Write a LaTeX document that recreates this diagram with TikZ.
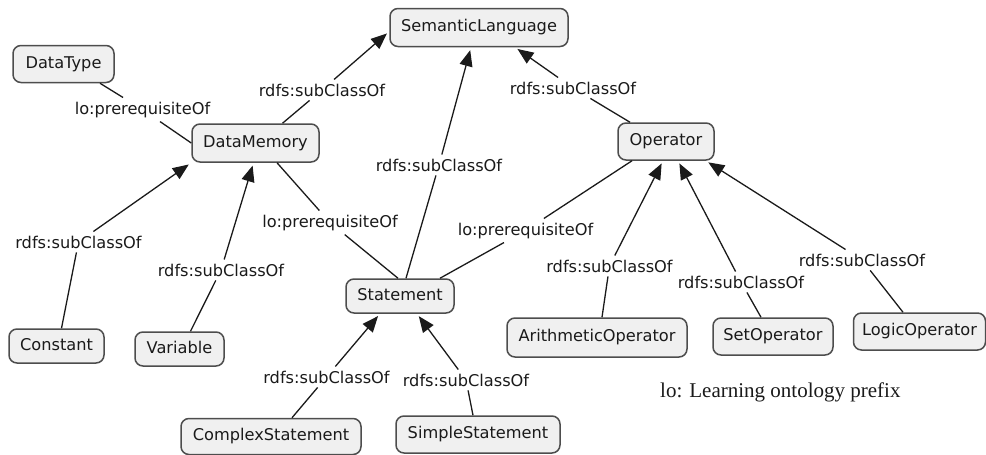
\documentclass[tikz,border=0pt]{standalone}
\usepackage{fontspec}
\setmainfont{DejaVu Sans}
\newfontfamily\legendfont{Liberation Serif}
\usetikzlibrary{arrows.meta}
\definecolor{boxfill}{HTML}{F0F0F0}
\definecolor{boxline}{HTML}{4D4D4D}
\definecolor{ink}{HTML}{1A1A1A}
\begin{document}
\begin{tikzpicture}[x=1pt,y=-1pt,
  concept/.style={draw=boxline, fill=boxfill, line width=1.5pt, rounded corners=8pt,
    inner sep=0pt, font=\fontsize{16.2}{19}\selectfont, text=ink,
    text height=12pt, text depth=3.5pt},
  rel/.style={font=\fontsize{16.2}{19}\selectfont, text=ink, inner sep=4pt, anchor=base},
  link/.style={draw=ink, line width=1.3pt},
  isa/.style={link, -{Triangle[length=16pt,width=13pt]}, shorten >=3pt}]
\useasboundingbox (0,0) rectangle (986,455);

% concepts
\node[concept, minimum width=178pt, minimum height=38pt] (sem) at (479,27.5) {SemanticLanguage};
\node[concept, minimum width=101pt, minimum height=37pt] (dt) at (63.5,64) {DataType};
\node[concept, minimum width=127pt, minimum height=38pt] (dm) at (255.5,143) {DataMemory};
\node[concept, minimum width=96pt, minimum height=37pt] (op) at (666,141.5) {Operator};
\node[concept, minimum width=108pt, minimum height=34pt] (st) at (400,296) {Statement};
\node[concept, minimum width=95pt, minimum height=34pt] (co) at (56.5,346) {Constant};
\node[concept, minimum width=89pt, minimum height=34pt] (va) at (179.5,349) {Variable};
\node[concept, minimum width=180pt, minimum height=36pt] (cs) at (271,436.5) {ComplexStatement};
\node[concept, minimum width=164pt, minimum height=37pt] (ss) at (478,434.5) {SimpleStatement};
\node[concept, minimum width=180pt, minimum height=39pt] (ao) at (597,337.5) {ArithmeticOperator};
\node[concept, minimum width=120pt, minimum height=37pt] (so) at (773,336.5) {SetOperator};
\node[concept, minimum width=132pt, minimum height=37pt] (lg) at (919.5,331.5) {LogicOperator};

% relation labels
\node[rel] (l1) at (142.5,114) {lo:prerequisiteOf};
\node[rel] (l2) at (322,96) {rdfs:subClassOf};
\node[rel] (l3) at (439,171) {rdfs:subClassOf};
\node[rel] (l4) at (573,94) {rdfs:subClassOf};
\node[rel] (l5) at (330,227) {lo:prerequisiteOf};
\node[rel] (l6) at (525.5,235) {lo:prerequisiteOf};
\node[rel] (l7) at (78.5,248) {rdfs:subClassOf};
\node[rel] (l8) at (221,276) {rdfs:subClassOf};
\node[rel] (l9) at (326.5,383) {rdfs:subClassOf};
\node[rel] (l10) at (466,386) {rdfs:subClassOf};
\node[rel] (l11) at (609.5,272) {rdfs:subClassOf};
\node[rel] (l12) at (741,288) {rdfs:subClassOf};
\node[rel] (l13) at (862,266) {rdfs:subClassOf};

% connectors
\draw[link] ([xshift=36.5pt]dt.south) -- (l1);
\draw[link] (l1) -- (dm.west);

\draw[link] ([xshift=27pt]dm.north) -- (l2);
\draw[isa] (l2) -- ([yshift=-4pt]sem.west);

\draw[link] ([xshift=6pt]st.north) -- (l3);
\draw[isa] (l3) -- ([xshift=-8pt]sem.south);

\draw[link] ([xshift=-36pt]op.north) -- (l4);
\draw[isa] (l4) -- ([xshift=36pt]sem.south);

\draw[link] ([xshift=21.5pt]dm.south) -- (l5);
\draw[link] (l5) -- ([xshift=-2pt]st.north);

\draw[link] ([xshift=-34pt]op.south) -- (l6);
\draw[link] (l6) -- ([xshift=40pt]st.north);

\draw[link] ([xshift=5pt]co.north) -- (l7);
\draw[isa] (l7) -- (dm.south west);

\draw[link] ([xshift=11pt]va.north) -- (l8);
\draw[isa] (l8) -- ([xshift=-2pt]dm.south);

\draw[link] ([xshift=21pt]cs.north) -- (l9);
\draw[isa] (l9) -- ([xshift=-20pt]st.south);

\draw[link] ([xshift=-5pt]ss.north) -- (l10);
\draw[isa] (l10) -- ([xshift=17pt]st.south);

\draw[link] ([xshift=5pt]ao.north) -- (l11);
\draw[isa] (l11) -- ([xshift=-3pt]op.south);

\draw[link] ([xshift=-12pt]so.north) -- (l12);
\draw[isa] (l12) -- ([xshift=12pt]op.south);

\draw[link] ([xshift=-16.5pt]lg.north) -- (l13);
\draw[isa] (l13) -- ([xshift=-9pt]op.south east);

% legend
\node[anchor=base west, inner sep=0pt, font=\legendfont\fontsize{21}{24}\selectfont, text=ink] (legend) at (660,397) {lo: Learning ontology prefix};
\end{tikzpicture}
\end{document}
